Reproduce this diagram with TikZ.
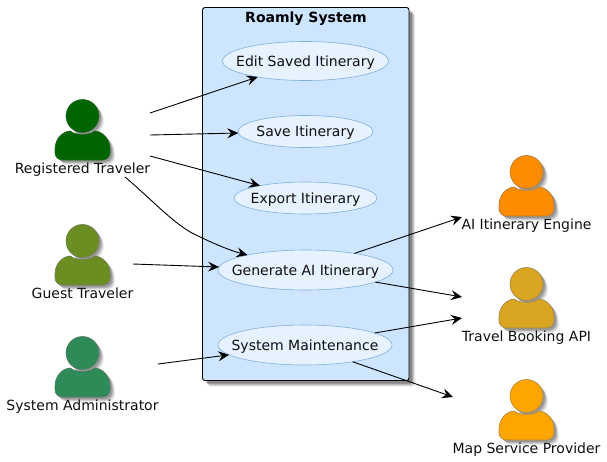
\documentclass[tikz,border=0pt]{standalone}
\usepackage{fontspec}
\setmainfont{DejaVu Sans}
\usetikzlibrary{arrows.meta,shapes.geometric}
\definecolor{boxfill}{HTML}{CEE5FF}
\definecolor{ucfill}{HTML}{E6F2FF}
\definecolor{ucline}{HTML}{7FB0DC}
\definecolor{ink}{HTML}{101010}
\definecolor{c1}{HTML}{006400}\definecolor{c2}{HTML}{6B8E23}\definecolor{c3}{HTML}{2E8B57}
\definecolor{c4}{HTML}{FF8C00}\definecolor{c5}{HTML}{DAA520}\definecolor{c6}{HTML}{FFA500}
\definecolor{edgegray}{HTML}{707070}
\newcommand{\mainsize}{\fontsize{14pt}{16pt}\selectfont}
\newcommand{\uctext}[1]{\raisebox{-5pt}[0pt][0pt]{\makebox[0pt][c]{#1}}}
\tikzset{
  x=1pt,y=-1pt,
  lbl/.style={font=\mainsize,text=ink,inner sep=0pt,anchor=base},
  usecase/.style={ellipse,draw=ucline,line width=0.6pt,fill=ucfill,inner sep=0pt,outer sep=0pt,font=\mainsize,text=ink},
  conn/.style={-{Stealth[length=11pt,width=10pt,inset=4pt]},line width=0.9pt,black},
  sysbox/.style={draw=black,line width=0.9pt,fill=boxfill,rounded corners=2.5pt},
}
\newcommand{\actorbody}{(-27.5,33) .. controls (-27.5,22) and (-19,15) .. (-12,15) .. controls (-8,19.5) and (8,19.5) .. (12,15) .. controls (19,15) and (27.5,22) .. (27.5,33) -- (27.5,37) .. controls (27.5,41) and (24,44) .. (20,44) -- (-20,44) .. controls (-24,44) and (-27.5,41) .. (-27.5,37) -- cycle (16.5,0) arc[start angle=0,end angle=360,radius=16.5]}
\newcommand{\drawactor}[6]{%
  \begin{scope}[shift={(#2,#3)}]
    \foreach \d/\op in {5/0.07,4/0.10,3/0.14,2/0.16}{
      \fill[black,opacity=\op,shift={(\d,\d)}] \actorbody;
    }
    \fill[#4,draw=#5,line width=0.6pt] \actorbody;
  \end{scope}
  \node[lbl] (#1) at (#2,#3+57) {#6};
}
\begin{document}
\begin{tikzpicture}
\useasboundingbox (0,0) rectangle (607,461);
\fill[white] (0,0) rectangle (607,461);
% shadow of system box
\foreach \d/\op in {6/0.08,5/0.12,4/0.16,3/0.2}{
  \fill[black,opacity=\op,rounded corners=2.5pt] (202.5+\d,7.5+\d) rectangle (409+\d,380.5+\d);
}
\node[sysbox,minimum width=206.5pt,minimum height=373pt,inner sep=0pt] (sys) at (305.75,194) {};
\node[font=\bfseries\fontsize{14pt}{16pt}\selectfont,text=black,inner sep=0pt,anchor=base] (systitle) at (306,22) {Roamly System};
% use cases
\node[usecase,minimum width=166pt,minimum height=39pt] (edit) at (305.5,61) {\uctext{Edit Saved Itinerary}};
\node[usecase,minimum width=135pt,minimum height=32pt] (save) at (305.5,131.5) {\uctext{Save Itinerary}};
\node[usecase,minimum width=143pt,minimum height=32pt] (export) at (305.5,198) {\uctext{Export Itinerary}};
\node[usecase,minimum width=175pt,minimum height=40pt] (gen) at (305.5,270) {\uctext{Generate AI Itinerary}};
\node[usecase,minimum width=174pt,minimum height=40pt] (maint) at (305,345) {\uctext{System Maintenance}};
% actors
\drawactor{reg}{82.5}{116}{c1}{c1!70!edgegray}{Registered Traveler}
\drawactor{guest}{82.5}{241}{c2}{c2!40!edgegray}{Guest Traveler}
\drawactor{admin}{82.5}{353}{c3}{c3!40!edgegray}{System Administrator}
\drawactor{ai}{526.5}{172}{c4}{c4!40!edgegray}{AI Itinerary Engine}
\drawactor{travel}{526.5}{284}{c5}{c5!40!edgegray}{Travel Booking API}
\drawactor{map}{526.5}{396}{c6}{c6!40!edgegray}{Map Service Provider}
% free connector ends
\coordinate (r1) at (150,113);
\coordinate (r2) at (150,135);
\coordinate (r3) at (150,156);
\coordinate (r4) at (125,177);
\coordinate (g1) at (133,264);
\coordinate (a1) at (158,364);
\coordinate (t1) at (462,217);
\coordinate (t2) at (462,297);
\coordinate (t3) at (462,318);
\coordinate (t4) at (453,397);
% connectors
\draw[conn] (r1) -- (edit);
\draw[conn] (r2) -- (save);
\draw[conn] (r3) -- (export);
\draw[conn] (r4) .. controls (150,198) and (172,222) .. (192,233) .. controls (208,241) and (228,250) .. (gen);
\draw[conn] (g1) -- (gen);
\draw[conn] (a1) -- (maint);
\draw[conn] (gen) -- (t1);
\draw[conn] (gen) -- (t2);
\draw[conn] (maint) -- (t3);
\draw[conn] (maint) -- (t4);
\end{tikzpicture}
\end{document}
